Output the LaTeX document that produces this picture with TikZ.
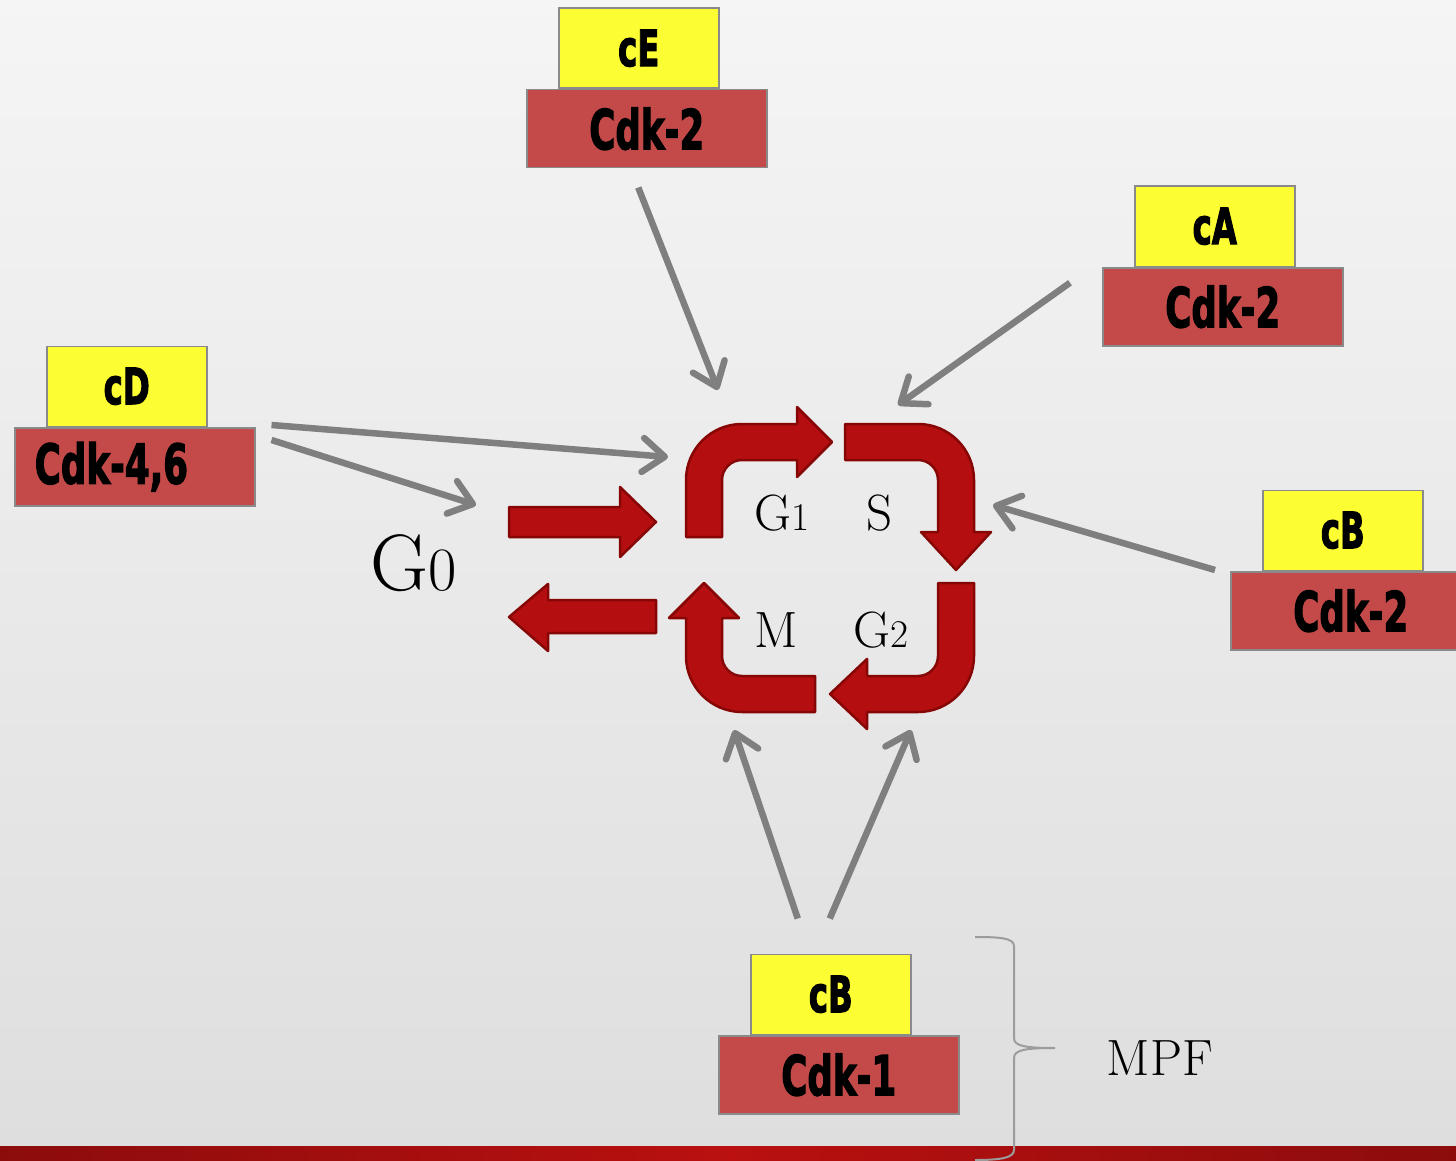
\documentclass[tikz,border=0pt]{standalone}
\usepackage{fontspec}
\newfontfamily\cdkfont{DejaVu Sans Condensed}[BoldFeatures={FakeBold=2.5}]
\usetikzlibrary{positioning, arrows.meta}
\definecolor{cdkred}{HTML}{C44A4A}
\definecolor{cycyellow}{HTML}{FDFD33}
\definecolor{boxline}{HTML}{8A8A8A}
\definecolor{arrowgray}{HTML}{7F7F7F}
\definecolor{phasered}{HTML}{B40E11}
\definecolor{phasedark}{HTML}{860606}
\definecolor{barred}{HTML}{BA1010}
\definecolor{bardark}{HTML}{8C0C0C}
\newcommand\squeeze[1]{\scalebox{0.72}[1]{#1}}
\newcommand\phasedigit[1]{\scalebox{0.77}{#1}}
% bent block arrow of the cycle: rotation, start, head base, tip
\newcommand\phasearrow[4]{%
  \begin{scope}[shift={(hub)}, rotate=#1]
    \filldraw[phase] (-144,-#2) -- (-144,-88)
      .. controls (-144,-118.9) and (-118.9,-144) .. (-88,-144)
      -- (#3,-144) -- (#3,-161) -- (#4,-126) -- (#3,-91) -- (#3,-108) -- (-88,-108)
      .. controls (-99.05,-108) and (-108,-99.05) .. (-108,-88)
      -- (-108,-#2) -- cycle;
  \end{scope}}
\tikzset{
  cdk/.style={draw=boxline, line width=1.5pt, fill=cdkred, minimum width=240pt,
    minimum height=78pt, inner sep=0pt, anchor=north west,
    font=\cdkfont\bfseries\fontsize{55}{55}\selectfont},
  cyclin/.style={draw=boxline, line width=1.5pt, fill=cycyellow, minimum width=160pt,
    minimum height=80pt, inner sep=0pt,
    font=\cdkfont\bfseries\fontsize{50}{50}\selectfont},
  feed/.style={color=arrowgray, line width=6.5pt, -{Straight Barb[length=22pt,width=34pt,round]}},
  phase/.style={fill=phasered, draw=phasedark, line width=2.5pt, line join=round},
  phasetext/.style={anchor=base, inner sep=0pt, font=\fontsize{51}{51}\selectfont}
}
\begin{document}
\begin{tikzpicture}[x=1pt, y=-1pt]
  \useasboundingbox (0,0) rectangle (1456,1161);
  \clip (0,0) rectangle (1456,1161);
  \shade[top color=white!96!black, bottom color=white!87!black] (0,0) rectangle (1456,1161);
  \shade[left color=bardark, right color=bardark, middle color=barred] (0,1146) rectangle (1456,1161);

  % complexes
  \node[cdk] (cEbase) at (526,89) {\squeeze{Cdk-2}};
  \node[cyclin, above right=0pt and 32pt of cEbase.north west] (cEtop) {\squeeze{cE}};
  \node[cdk] (cAbase) at (1102,267) {\squeeze{Cdk-2}};
  \node[cyclin, above right=0pt and 32pt of cAbase.north west] (cAtop) {\squeeze{cA}};
  \node[cdk, text width=200pt, align=left, inner xsep=20pt] (cDbase) at (14,427) {\squeeze{Cdk-4,6}};
  \node[cyclin, above right=0pt and 32pt of cDbase.north west] (cDtop) {\squeeze{cD}};
  \node[cdk] (cBbase) at (1230,571) {\squeeze{Cdk-2}};
  \node[cyclin, above right=0pt and 32pt of cBbase.north west] (cBtop) {\squeeze{cB}};
  \node[cdk] (mpfbase) at (718,1035) {\squeeze{Cdk-1}};
  \node[cyclin, above right=0pt and 32pt of mpfbase.north west] (mpftop) {\squeeze{cB}};

  % brace and MPF
  \draw[boxline!85!white, line width=2pt] (975,937) .. controls (1000,937) and (1014,938) .. (1014,946)
    -- (1014,1038) .. controls (1014,1046) and (1025,1048) .. (1055,1048)
    .. controls (1025,1048) and (1014,1050) .. (1014,1058)
    -- (1014,1150) .. controls (1014,1158) and (1000,1160) .. (975,1160);
  \node[phasetext] (mpf) at (1160,1075) {MPF};

  % cycle
  \coordinate (hub) at (830,568);
  \phasearrow{0}{31}{-33}{2}
  \phasearrow{-90}{15}{-36}{2}
  \phasearrow{180}{15}{-37}{0}
  \phasearrow{90}{15}{-50}{-15}
  \node[phasetext] (g1) at (782,530) {G\phasedigit{1}};
  \node[phasetext] (s) at (880,530) {S};
  \node[phasetext] (m) at (776,647) {M};
  \node[phasetext] (g2) at (881,647) {G\phasedigit{2}};

  % G0
  \node[phasetext, font=\fontsize{80}{80}\selectfont] (g0) at (414,590) {G\phasedigit{0}};
  \filldraw[phase] (509,507) -- (620,507) -- (620,487) -- (656,522) -- (620,557) -- (620,537) -- (509,537) -- cycle;
  \filldraw[phase] (656,600) -- (548,600) -- (548,584) -- (509,617) -- (548,651) -- (548,633) -- (656,633) -- cycle;

  % targets
  \coordinate (tipE) at (718,390);
  \coordinate (tipA) at (898,405);
  \coordinate (tipD) at (668,457);
  \coordinate (tipG) at (476,505);
  \coordinate (tipB) at (993,505);
  \coordinate (tipM) at (734,730);
  \coordinate (tipT) at (911,730);
  \path[feed]
    ([xshift=-8.5pt,yshift=-19pt]cEbase.south) edge (tipE)
    ([xshift=-32pt,yshift=24pt]cAbase.west) edge (tipA)
    ([xshift=16pt,yshift=2pt]cDbase.north east) edge (tipD)
    ([xshift=16pt,yshift=-13pt]cDbase.north east) edge (tipG)
    ([xshift=-15pt,yshift=1pt]cBbase.north west) edge (tipB)
    ([xshift=-33pt,yshift=35pt]mpftop.north) edge (tipM)
    ([xshift=-1pt,yshift=35pt]mpftop.north) edge (tipT);
\end{tikzpicture}
\end{document}
